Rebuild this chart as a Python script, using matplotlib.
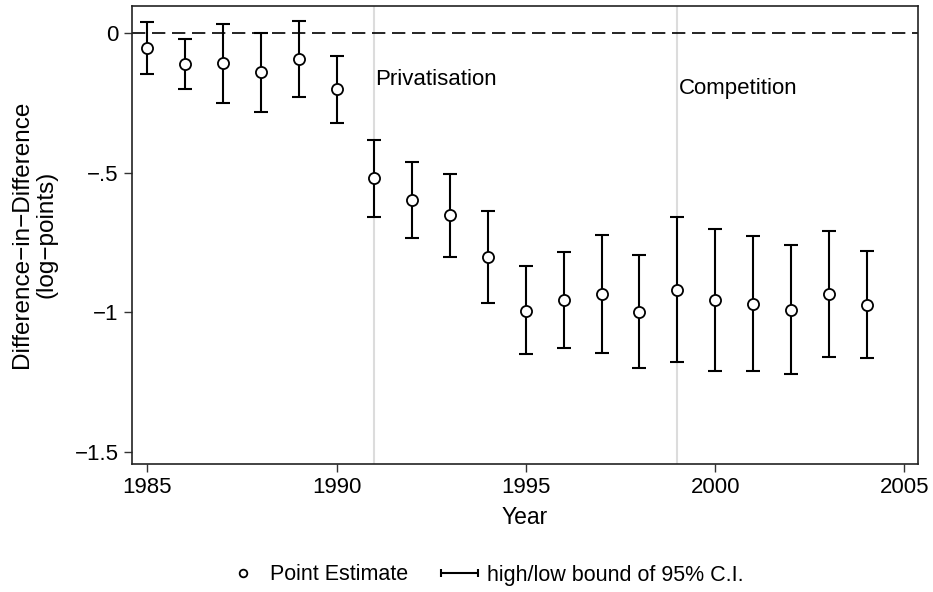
import numpy as np
import matplotlib
matplotlib.use("Agg")
import matplotlib.pyplot as plt
from matplotlib.legend_handler import HandlerErrorbar

plt.rcParams['font.family'] = ['Liberation Sans', 'DejaVu Sans']

# event-study estimates
years = [1985, 1986, 1987, 1988, 1989, 1990, 1991, 1992, 1993, 1994,
         1995, 1996, 1997, 1998, 1999, 2000, 2001, 2002, 2003, 2004]
point = [-0.051, -0.109, -0.107, -0.138, -0.090, -0.200, -0.520, -0.596, -0.653, -0.802,
         -0.994, -0.955, -0.935, -1.000, -0.920, -0.957, -0.969, -0.991, -0.934, -0.975]
high = [0.042, -0.021, 0.033, 0.003, 0.046, -0.081, -0.382, -0.462, -0.503, -0.638,
        -0.836, -0.783, -0.723, -0.796, -0.660, -0.702, -0.727, -0.760, -0.708, -0.782]
low = [-0.144, -0.200, -0.249, -0.281, -0.229, -0.321, -0.657, -0.732, -0.801, -0.966,
       -1.150, -1.129, -1.148, -1.202, -1.180, -1.211, -1.211, -1.223, -1.161, -1.166]

events = [1991, 1999]
event_labels = ['Privatisation', 'Competition']
event_label_y = [-0.166, -0.196]

xticks = [1985, 1990, 1995, 2000, 2005]
yticks = [0, -0.5, -1, -1.5]
yticklabels = ['0', '\u2212.5', '\u22121', '\u22121.5']

x = np.array(years)
p = np.array(point)
hi = np.array(high)
lo = np.array(low)

fig = plt.figure(figsize=(9.33, 5.92), dpi=100)
ax = fig.add_axes([0.1412, 0.217, 0.8428, 0.7729])

# event lines + labels
for ev, lab, ly in zip(events, event_labels, event_label_y):
    ax.axvline(ev, color='#dcdcdc', linewidth=1.5, zorder=1)
    ax.text(ev + 0.03, ly, lab, fontsize=16, va='center', ha='left')

ax.axhline(0, color='black', linestyle=(0, (8, 4)), linewidth=1.2, zorder=1)

# CI bars
eb = ax.errorbar(x, p, yerr=[p - lo, hi - p], fmt='none', ecolor='black',
                 elinewidth=1.5, capsize=5, capthick=1.5, zorder=2)
# point estimates
pt, = ax.plot(x, p, linestyle='none', marker='o', markersize=8,
              markerfacecolor='white', markeredgecolor='black',
              markeredgewidth=1.3, zorder=3)

ax.set_xlim(1984.59, 2005.36)
ax.set_ylim(-1.543, 0.0987)
ax.set_xticks(xticks)
ax.set_yticks(yticks)
ax.set_yticklabels(yticklabels)
ax.tick_params(axis='both', labelsize=16, length=6, width=1, direction='out', color='#333333')
ax.tick_params(axis='x', pad=4)
for s in ax.spines.values():
    s.set_linewidth(1.2)
    s.set_color('#222222')

ax.set_xlabel('Year', fontsize=16.5)
ax.xaxis.set_label_coords(0.5, -0.093)
ax.set_ylabel('Difference\u2212in\u2212Difference\n(log\u2212points)', fontsize=17.5,
              linespacing=1.15)
ax.yaxis.set_label_coords(-0.094, 0.5)

# legend handles
pt_leg, = ax.plot([], [], linestyle='none', marker='o', markersize=5.5,
                  markerfacecolor='white', markeredgecolor='black', markeredgewidth=1.3)
ci_leg = ax.errorbar([np.nan], [np.nan], xerr=[np.nan], fmt='none', ecolor='black',
                     elinewidth=1.5, capsize=3, capthick=1.5)
fig.legend([pt_leg, ci_leg], ['Point Estimate', 'high/low bound of 95% C.I.'],
           loc='center', bbox_to_anchor=(484 / 933, 1 - 575 / 592), ncol=2,
           frameon=False, fontsize=15.5, handlelength=1.75, handletextpad=0.4,
           columnspacing=1.5,
           handler_map={type(ci_leg): HandlerErrorbar(xerr_size=0.85)})

fig.savefig('out.png', dpi=100)
